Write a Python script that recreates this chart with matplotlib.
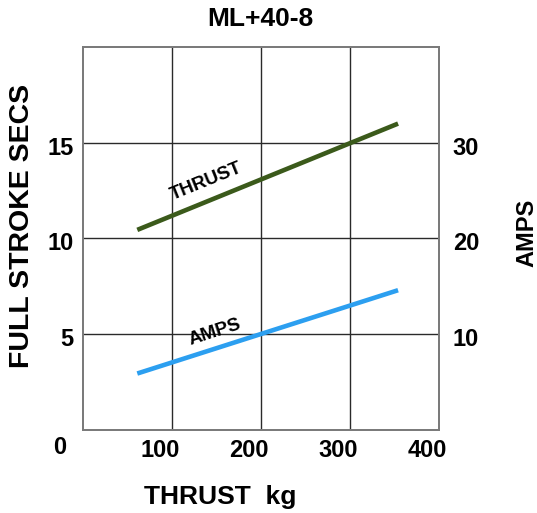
import matplotlib
matplotlib.use("Agg")
import matplotlib.pyplot as plt
import matplotlib.transforms as mtransforms

plt.rcParams['font.family'] = ['Liberation Sans', 'DejaVu Sans']
plt.rcParams['font.weight'] = 'bold'

# ---- data ----
title = "ML+40-8"
thrust_kg = [61, 354]
full_stroke_secs = [10.45, 16.0]
amps_thrust_kg = [61, 354]
amps_values = [5.9, 14.6]
x_ticks = [100, 200, 300, 400]
y_left_ticks = [5, 10, 15]
y_right_ticks = [10, 20, 30]

W, H = 537, 513
fig = plt.figure(figsize=(W / 100, H / 100), dpi=100)
ax = fig.add_axes([83 / W, 1 - 430 / H, (439 - 83) / W, (430 - 47) / H])
ax2 = ax.twinx()

ax.set_xlim(0, 400)
ax.set_ylim(0, 20)
ax2.set_ylim(0, 40)

# grid
for xv in x_ticks[:-1]:
    ax.axvline(xv, color='#2a2a2a', lw=1.0, zorder=1)
for yv in y_left_ticks:
    ax.axhline(yv, color='#2a2a2a', lw=1.0, zorder=1)

ax.plot(thrust_kg, full_stroke_secs, color='#3b5a1b', lw=3.3, solid_capstyle='butt', zorder=3)
ax2.plot(amps_thrust_kg, amps_values, color='#2c9ff0', lw=3.3, solid_capstyle='butt', zorder=3)

ax.text(139, 12.95, "THRUST", rotation=22, ha='center', va='center',
        fontsize=13.5, fontweight='bold', zorder=4)
ax.text(148, 5.1, "AMPS", rotation=18, ha='center', va='center',
        fontsize=13.5, fontweight='bold', zorder=4)

# ticks
ax.set_xticks(x_ticks)
ax.set_xticklabels([str(v) for v in x_ticks])
ax.set_yticks(y_left_ticks)
ax.set_yticklabels([str(v) for v in y_left_ticks])
ax2.set_yticks(y_right_ticks)
ax2.set_yticklabels([str(v) for v in y_right_ticks])

ax.tick_params(axis='x', length=0, pad=6.5, labelsize=17)
ax.tick_params(axis='y', length=0, pad=7, labelsize=17)
ax2.tick_params(axis='y', length=0, pad=10, labelsize=17)

off = mtransforms.ScaledTranslation(-12 / 100, 0, fig.dpi_scale_trans)
for lab in ax.get_xticklabels():
    lab.set_transform(lab.get_transform() + off)
offy = mtransforms.ScaledTranslation(0, -3 / 100, fig.dpi_scale_trans)
for lab in ax.get_yticklabels() + ax2.get_yticklabels():
    lab.set_transform(lab.get_transform() + offy)

for a in (ax, ax2):
    for s in a.spines.values():
        s.set_color('#7a7a7a')
        s.set_linewidth(1.3)

# extra corner label and labels
fig.text(60 / W, 1 - 448 / H, "0", ha='center', va='center', fontsize=17, fontweight='bold')
fig.text(260 / W, 1 - 19 / H, title, ha='center', va='center', fontsize=19, fontweight='bold')
fig.text(220 / W, 1 - 497 / H, "THRUST  kg", ha='center', va='center', fontsize=19, fontweight='bold')
fig.text(22 / W, 1 - 226 / H, "FULL STROKE SECS", ha='center', va='center', rotation=90,
         fontsize=20.5, fontweight='bold')
fig.text(527 / W, 1 - 233 / H, "AMPS", ha='center', va='center', rotation=90,
         fontsize=17, fontweight='bold')

fig.savefig("out.png", dpi=100)
